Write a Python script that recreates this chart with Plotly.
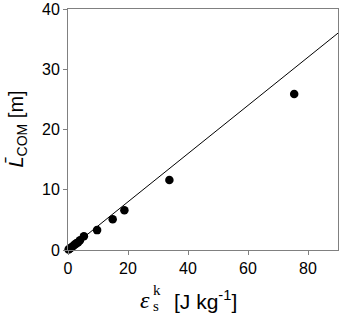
import plotly.graph_objects as go

# data
energy = [0.2, 0.5, 0.9, 1.3, 1.8, 2.3, 2.8, 3.4, 4.0, 5.3, 9.7, 14.9, 18.8, 33.8, 75.4]
length = [0.1, 0.2, 0.35, 0.5, 0.7, 0.9, 1.1, 1.3, 1.6, 2.3, 3.3, 5.1, 6.6, 11.6, 25.9]
fit_x = [0, 90]
fit_slope = 0.4
fit_y = [fit_slope * v for v in fit_x]

x_ticks = [0, 20, 40, 60, 80]
y_ticks = [0, 10, 20, 30, 40]

L, R, T, B = 68, 2, 9, 65
W, H = 340, 315
PW = W - L - R

fig = go.Figure()
fig.add_trace(go.Scatter(x=fit_x, y=fit_y, mode="lines",
                         line=dict(color="black", width=1), cliponaxis=True,
                         showlegend=False, hoverinfo="skip"))
fig.add_trace(go.Scatter(x=energy, y=length, mode="markers",
                         marker=dict(color="black", size=8.5),
                         cliponaxis=False, showlegend=False))

axis_common = dict(showgrid=False, zeroline=False, showline=True, linecolor="#808080",
                   linewidth=1, mirror=True, ticks="outside", ticklen=4, tickcolor="#808080",
                   automargin=False,
                   tickfont=dict(family="Liberation Sans, Arial", size=16, color="black"))

fig.update_xaxes(range=[0, 90], tickvals=x_ticks, ticktext=[str(t) for t in x_ticks], **axis_common)
fig.update_yaxes(range=[0, 40], tickvals=y_ticks, ticktext=[str(t) for t in y_ticks], **axis_common)

sans = "Liberation Sans, Arial"
serif = "Liberation Serif, DejaVu Serif"

def px(xp):
    return (xp - L) / PW

annotations = [
    # y-axis title
    dict(text="<i>L\u0304</i><sub>COM</sub> [m]", xref="paper", yref="paper",
         x=0, y=0.5, xshift=-51, xanchor="center", yanchor="middle", textangle=-90,
         showarrow=False, font=dict(family=sans, size=20, color="black")),
    # x-axis title pieces
    dict(text="<i>ε</i>", xref="paper", yref="paper", x=px(152), y=0, yshift=-50,
         xanchor="right", yanchor="middle", showarrow=False,
         font=dict(family=serif, size=24, color="black")),
    dict(text="s", xref="paper", yref="paper", x=px(151), y=0, yshift=-56,
         xanchor="left", yanchor="middle", showarrow=False,
         font=dict(family=serif, size=15, color="black")),
    dict(text="k", xref="paper", yref="paper", x=px(151), y=0, yshift=-40,
         xanchor="left", yanchor="middle", showarrow=False,
         font=dict(family=serif, size=15, color="black")),
    dict(text="[J kg<sup>-1</sup>]", xref="paper", yref="paper", x=px(172), y=0, yshift=-50,
         xanchor="left", yanchor="middle", showarrow=False,
         font=dict(family=sans, size=21, color="black")),
]

fig.update_layout(width=W, height=H, margin=dict(l=L, r=R, t=T, b=B),
                  plot_bgcolor="white", paper_bgcolor="white", annotations=annotations)

fig.write_html("out.html", config={"displayModeBar": False},
               post_script="document.body.style.margin='0';")
